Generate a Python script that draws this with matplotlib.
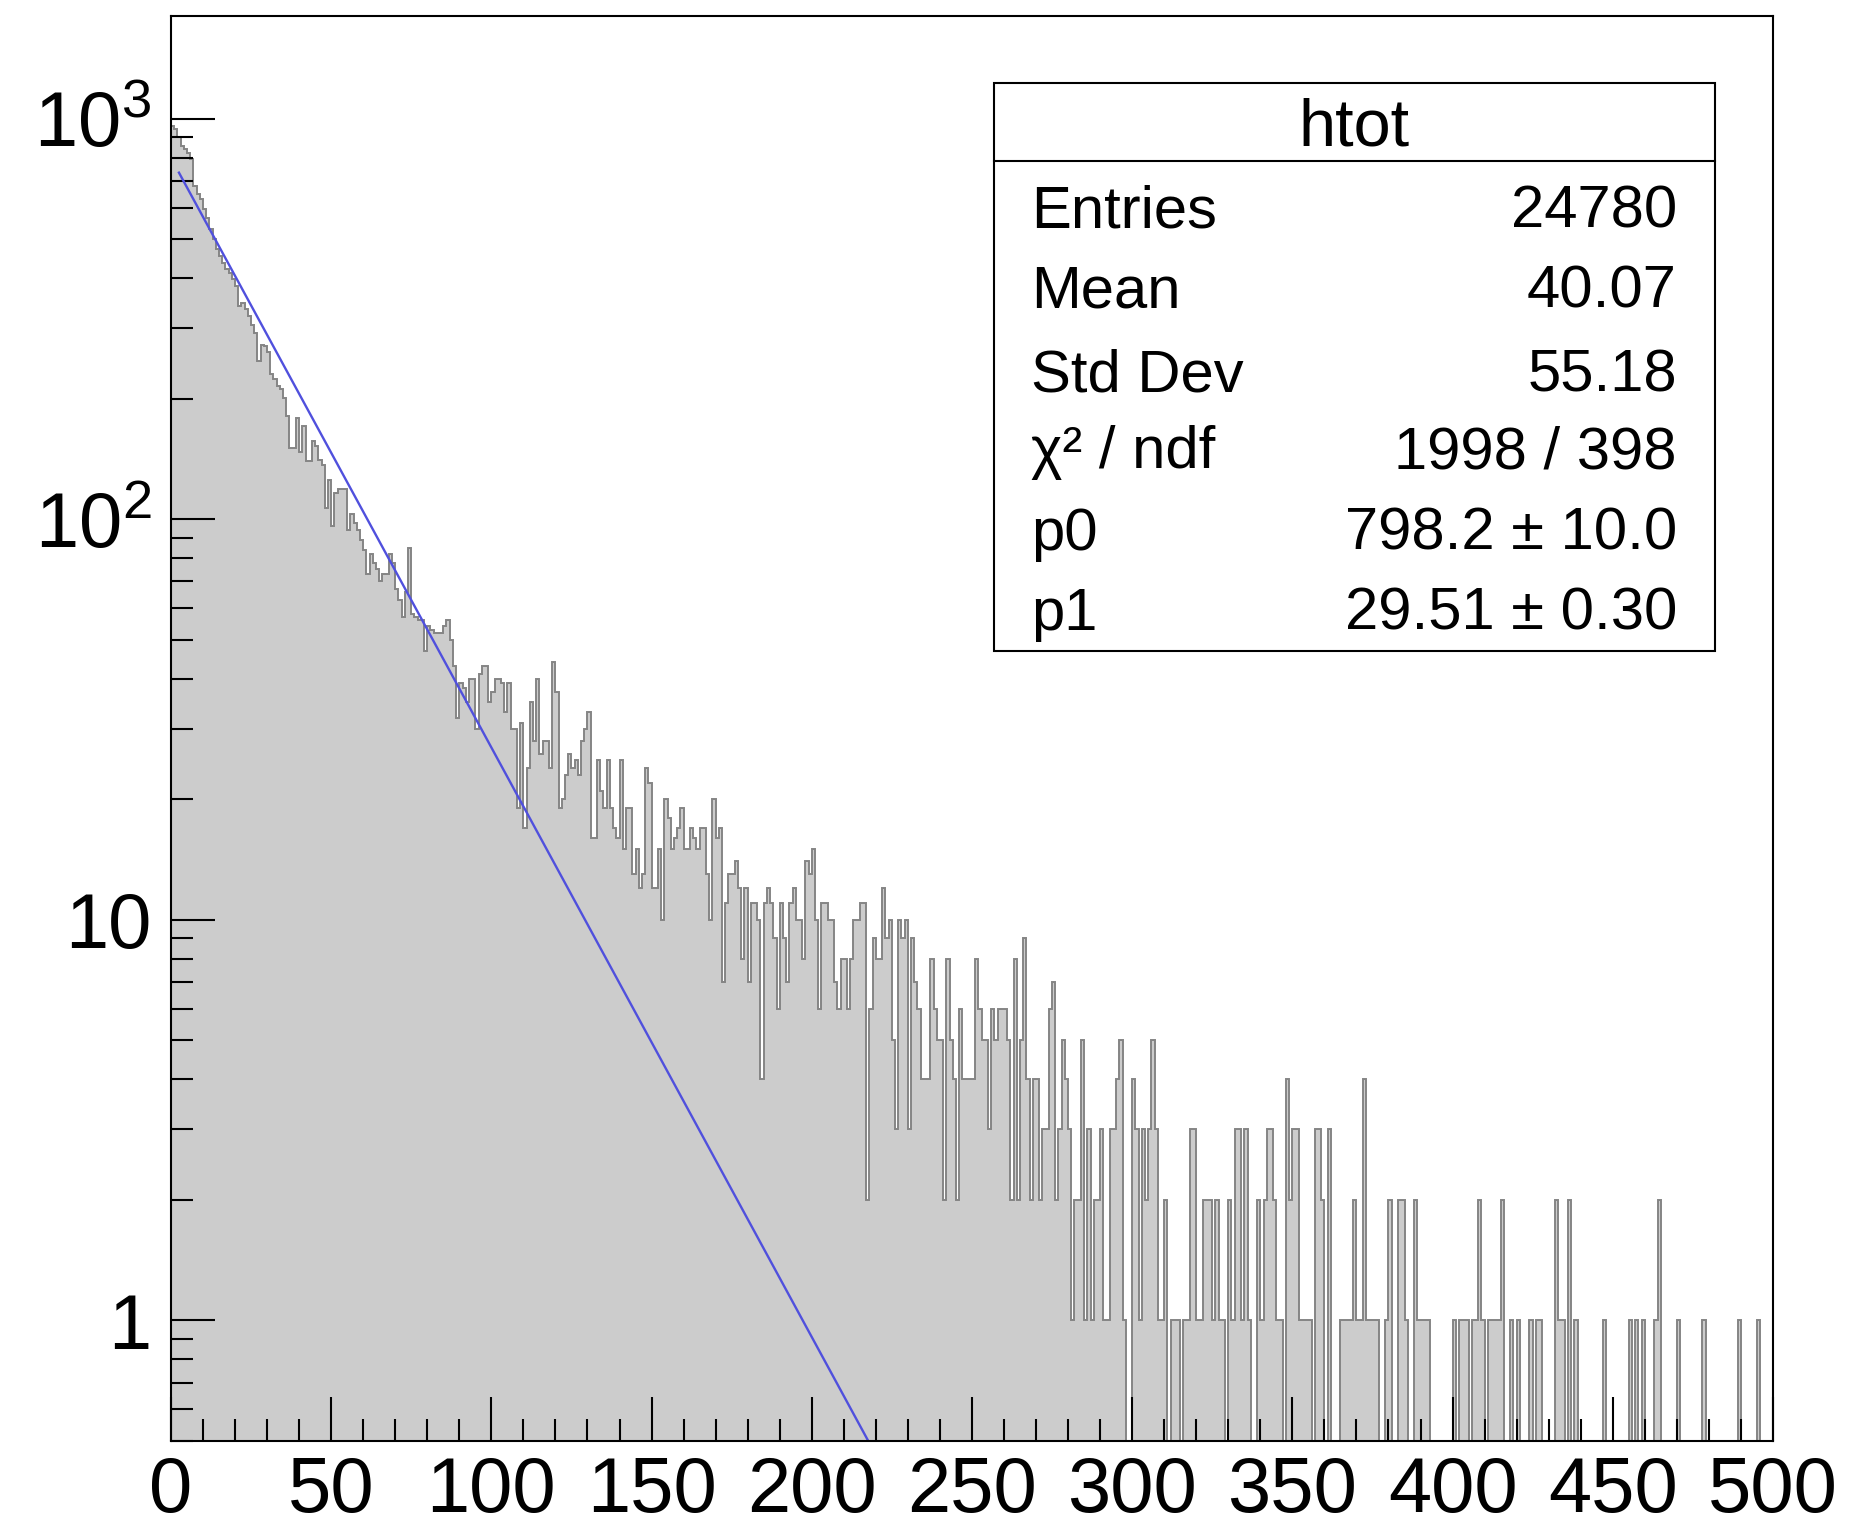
import numpy as np
import matplotlib
matplotlib.use("Agg")
import matplotlib.pyplot as plt
from matplotlib.ticker import MultipleLocator, NullFormatter, LogLocator
from matplotlib.patches import Rectangle
from matplotlib.lines import Line2D

plt.rcParams['font.family'] = ['Liberation Sans', 'DejaVu Sans']
plt.rcParams['mathtext.default'] = 'regular'

# htot: 500 bins of width 1 between 0 and 500 (counts)
counts_000 = [958, 944, 900, 854, 841, 820, 791, 680, 650, 629,
              594, 566, 529, 500, 472, 454, 437, 421, 413, 397,
              382, 341, 347, 334, 322, 305, 292, 248, 273, 271,
              261, 230, 224, 215, 211, 201, 181, 151, 151, 179,
              147, 171, 140, 140, 157, 152, 141, 137, 107, 125]
counts_050 = [96, 116, 119, 119, 119, 94, 103, 98, 94, 89,
              84, 73, 82, 78, 75, 70, 73, 73, 82, 78,
              67, 63, 57, 66, 85, 58, 57, 56, 56, 47,
              54, 53, 52, 52, 52, 54, 56, 50, 43, 32,
              39, 38, 35, 40, 40, 30, 41, 43, 43, 35]
counts_100 = [37, 40, 40, 39, 33, 39, 30, 30, 19, 31,
              17, 24, 35, 28, 40, 26, 28, 28, 24, 44,
              37, 19, 20, 23, 26, 24, 25, 23, 28, 30,
              33, 16, 16, 25, 21, 19, 25, 19, 17, 16,
              25, 15, 19, 19, 13, 15, 12, 13, 24, 22]
counts_150 = [12, 12, 15, 10, 20, 18, 15, 16, 17, 19,
              15, 15, 17, 16, 15, 17, 17, 13, 10, 20,
              16, 17, 7, 11, 13, 13, 14, 12, 8, 12,
              7, 11, 11, 10, 4, 11, 12, 11, 9, 6,
              11, 9, 7, 11, 12, 10, 10, 8, 14, 13]
counts_200 = [15, 10, 6, 11, 11, 10, 10, 7, 6, 8,
              8, 6, 8, 10, 10, 11, 11, 2, 6, 9,
              8, 8, 12, 9, 10, 5, 3, 10, 9, 10,
              3, 9, 7, 6, 4, 4, 4, 8, 6, 5,
              5, 2, 8, 5, 4, 2, 6, 4, 4, 4]
counts_250 = [4, 8, 6, 5, 5, 3, 6, 5, 6, 6,
              6, 5, 2, 8, 2, 5, 9, 4, 2, 4,
              4, 2, 3, 3, 6, 7, 2, 3, 5, 4,
              3, 1, 2, 2, 5, 1, 3, 1, 2, 2,
              3, 1, 1, 3, 3, 4, 5, 1, 0, 0]
counts_300 = [4, 3, 1, 3, 2, 3, 5, 3, 1, 1,
              2, 0, 1, 1, 1, 0, 1, 1, 3, 3,
              1, 1, 2, 2, 2, 1, 2, 1, 1, 0,
              2, 1, 3, 3, 1, 3, 1, 0, 0, 2,
              1, 2, 3, 3, 2, 1, 1, 0, 4, 2]
counts_350 = [3, 3, 1, 1, 1, 1, 0, 3, 3, 2,
              0, 3, 0, 0, 0, 1, 1, 1, 1, 2,
              1, 1, 4, 1, 1, 1, 1, 0, 0, 1,
              2, 0, 0, 2, 2, 1, 0, 0, 2, 1,
              1, 1, 1, 0, 0, 0, 0, 0, 0, 0]
counts_400 = [1, 0, 1, 1, 1, 0, 1, 1, 2, 1,
              0, 1, 1, 1, 1, 2, 0, 0, 1, 0,
              1, 0, 0, 0, 1, 0, 1, 1, 0, 0,
              0, 0, 2, 1, 1, 0, 2, 0, 1, 0,
              0, 0, 0, 0, 0, 0, 0, 1, 0, 0]
counts_450 = [0, 0, 0, 0, 0, 1, 0, 1, 0, 1,
              0, 0, 0, 1, 2, 0, 0, 0, 0, 0,
              1, 0, 0, 0, 0, 0, 0, 0, 1, 0,
              0, 0, 0, 0, 0, 0, 0, 0, 0, 1,
              0, 0, 0, 0, 0, 1, 0, 0, 0, 0]

x_min, x_max = 0, 500

# fit: p0 * exp(-x / p1)
p0 = 798.2
p1 = 29.51
fit_start = 2.5

# stats box
stats_title = "htot"
stats_names = ["Entries", "Mean", "Std Dev", "\u03c7\u00b2 / ndf", "p0", "p1"]
stats_values = ["24780", "40.07", "55.18", "1998 / 398",
                "798.2 \u00b1 10.0", "29.51 \u00b1 0.30"]

counts = np.array(counts_000 + counts_050 + counts_100 + counts_150 + counts_200 +
                  counts_250 + counts_300 + counts_350 + counts_400 + counts_450, dtype=float)
edges = np.arange(x_min, x_max + 1, 1)

fig = plt.figure(figsize=(18.54, 15.35), dpi=100)
ax = fig.add_axes([0.0922, 0.0612, 0.8641, 0.9281])

# empty bins go down to the bottom of the log axis
floor = 1e-3
shown = np.where(counts > 0, counts, floor)
ax.stairs(shown, edges, fill=True, color='#cccccc', baseline=floor)
ax.stairs(shown, edges, color='#858585', linewidth=1.4, baseline=floor)

xf = np.linspace(fit_start, x_max, 2000)
ax.plot(xf, p0 * np.exp(-xf / p1), color='#5050dd', linewidth=1.7)

ax.set_yscale('log')
ax.set_xlim(x_min, x_max)
ax.set_ylim(0.5, 1800)

ax.xaxis.set_major_locator(MultipleLocator(50))
ax.xaxis.set_minor_locator(MultipleLocator(10))
ax.set_yticks([1, 10, 100, 1000])
ax.set_yticklabels(['1', '10', '$10^{2}$', '$10^{3}$'])
ax.yaxis.set_minor_locator(LogLocator(base=10, subs=np.arange(2, 10)))
ax.yaxis.set_minor_formatter(NullFormatter())

ax.tick_params(which='both', direction='in', top=False, right=False, width=1.5, colors='black')
ax.tick_params(which='major', length=32, labelsize=56)
ax.tick_params(which='minor', length=16)
ax.tick_params(axis='x', which='major', pad=10)
ax.tick_params(axis='y', which='major', pad=14)
for s in ax.spines.values():
    s.set_linewidth(1.5)

# stats box (figure coordinates)
bx0, bx1 = 0.5361, 0.9248
by0, by1 = 0.5756, 0.9459
fig.add_artist(Rectangle((bx0, by0), bx1 - bx0, by1 - by0, transform=fig.transFigure,
                         facecolor='white', edgecolor='black', linewidth=1.5, zorder=5))
fig.add_artist(Line2D([bx0, bx1], [0.8951, 0.8951], transform=fig.transFigure,
                      color='black', linewidth=1.5, zorder=6))
fig.text((bx0 + bx1) / 2, 0.9165, stats_title, fontsize=48, ha='center', va='center', zorder=7)

row_y = [0.8520, 0.7995, 0.7448, 0.6951, 0.6417, 0.5896]
for name, val, y in zip(stats_names, stats_values, row_y):
    fig.text(0.5561, y, name, fontsize=43, ha='left', va='baseline', zorder=7)
    fig.text(0.9045, y, val, fontsize=43, ha='right', va='baseline', zorder=7)

fig.savefig('out.png', dpi=100)
